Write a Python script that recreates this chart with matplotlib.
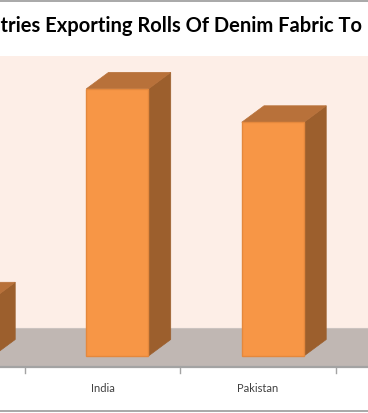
import matplotlib
matplotlib.use("Agg")
import matplotlib.pyplot as plt
from matplotlib.patches import Polygon
from matplotlib.lines import Line2D

# ---- data (first and last categories are cropped in the reference) ----
categories = ["China", "India", "Pakistan"]
values = [12, 56, 49]
value_max = 57
title = "Countries Exporting Rolls Of Denim Fabric To"

# ---- layout / style constants ----
W, H = 368, 414
PX_X = 155.5          # pixels per category
PX_Y = 4.77           # pixels per value unit
X1_PX = 102.5         # pixel x of category index 1 (front floor edge)
FLOOR_FRONT_PX = 368  # pixel y (from top) of the floor's front edge
SLANT = 1.35          # horizontal px per vertical px of depth
BAR_D1, BAR_D2 = 11, 27.5   # bar front/back depth (px)
FLOOR_D = 39                # floor depth (px)
BAR_W = 0.4

FRONT = "#F79646"
FRONT_EDGE = "#E4883D"
TOP = "#B8713A"
SIDE = "#9C5F2D"
WALL = "#FDEEE7"
FLOOR = "#C0B7B3"

plt.rcParams["font.family"] = ["Lato", "DejaVu Sans"]

fig = plt.figure(figsize=(W / 100, H / 100), dpi=100)
fig.patch.set_facecolor("white")
ax = fig.add_axes([0, 0, 1, 1])
ax.set_axis_off()
xmin = 1 - X1_PX / PX_X
xmax = 1 + (W - X1_PX) / PX_X
ax.set_xlim(xmin, xmax)
ax.set_ylim(-(H - FLOOR_FRONT_PX) / PX_Y, FLOOR_FRONT_PX / PX_Y)


def off(d):
    """data offset for a depth of d pixels"""
    return d * SLANT / PX_X, d / PX_Y


# back wall
fx, fy = off(FLOOR_D)
ax.add_patch(Polygon([(xmin - 2, fy), (xmax + 2, fy),
                      (xmax + 2, fy + value_max), (xmin - 2, fy + value_max)],
                     closed=True, facecolor=WALL, edgecolor="none", zorder=1))
# floor
ax.add_patch(Polygon([(xmin - 2, 0), (xmax + 2, 0),
                      (xmax + 2 + fx, fy), (xmin - 2 + fx, fy)],
                     closed=True, facecolor=FLOOR, edgecolor="none", zorder=2))
ax.plot([xmin - 2 + fx, xmax + 2 + fx], [fy, fy], color="#CBC3C0", lw=0.8, zorder=2)
ax.plot([xmin - 2, xmax + 2], [0, 0], color="#A3A3A3", lw=1.6, zorder=3)

# ticks at category boundaries and labels
tick_len = 6 / PX_Y
for b in [i + 0.5 for i in range(len(categories))]:
    ax.plot([b, b], [0, -tick_len], color="#A3A3A3", lw=1.0, zorder=3)
for i, c in enumerate(categories):
    ax.text(i, -21 / PX_Y, c, ha="center", va="center", fontsize=8,
            color="#404040", zorder=5)

# 3D bars
ox1, oy1 = off(BAR_D1)
ox2, oy2 = off(BAR_D2)
for i, v in enumerate(values):
    l, r = i - BAR_W / 2, i + BAR_W / 2
    front = [(l + ox1, oy1), (r + ox1, oy1), (r + ox1, oy1 + v), (l + ox1, oy1 + v)]
    top = [(l + ox1, oy1 + v), (r + ox1, oy1 + v), (r + ox2, oy2 + v), (l + ox2, oy2 + v)]
    side = [(r + ox1, oy1), (r + ox2, oy2), (r + ox2, oy2 + v), (r + ox1, oy1 + v)]
    ax.add_patch(Polygon(side, closed=True, facecolor=SIDE, edgecolor=SIDE, lw=0.5, zorder=4))
    ax.add_patch(Polygon(top, closed=True, facecolor=TOP, edgecolor=TOP, lw=0.5, zorder=4))
    ax.add_patch(Polygon(front, closed=True, facecolor=FRONT, edgecolor=FRONT_EDGE, lw=1.0, zorder=4))

# title (cropped on the left like the reference)
fig.text(362 / W, 1 - 26 / H, title, ha="right", va="center",
         fontsize=14.5, fontweight="bold", color="black")

# chart frame lines (top / bottom)
fig.add_artist(Line2D([0, 1], [1 - 1.5 / H, 1 - 1.5 / H], transform=fig.transFigure,
                      color="#9A9A9A", lw=1.2))
fig.add_artist(Line2D([0, 1], [1 - 412 / H, 1 - 412 / H], transform=fig.transFigure,
                      color="#9A9A9A", lw=1.2))

fig.savefig("out.png", dpi=100)
